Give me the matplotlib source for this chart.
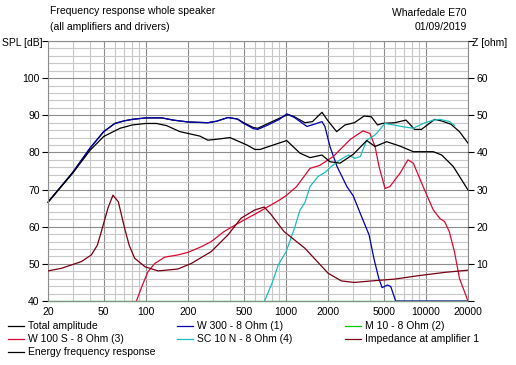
import matplotlib
matplotlib.use("Agg")
import matplotlib.pyplot as plt
from matplotlib.lines import Line2D
from matplotlib.ticker import FixedLocator, NullFormatter

plt.rcParams['font.family'] = ['Liberation Sans', 'DejaVu Sans']
plt.rcParams['font.size'] = 7.5

# --- data (frequency in Hz, level in dB, impedance in ohm) ---
total_f = [20, 30, 40, 50, 60, 70, 80, 100, 130, 157, 200, 277, 320, 386, 450, 500, 586, 630,
           747, 900, 1041, 1152, 1368, 1550, 1700, 1812, 2000, 2305, 2645, 3087, 3620, 4077,
           4520, 4870, 5990, 7220, 8300, 9300, 11570, 12900, 15100, 17380, 20000]
total_db = [66.6, 74.6, 81.2, 85.6, 87.8, 88.5, 88.9, 89.3, 89.3, 88.7, 88.2, 88.0, 88.4, 89.4,
            89.0, 88.0, 86.7, 86.5, 87.8, 89.2, 90.2, 89.6, 88.0, 88.3, 89.8, 90.8, 88.5, 85.6,
            87.4, 88.0, 89.8, 89.6, 87.4, 87.8, 88.0, 88.7, 86.2, 86.2, 88.9, 88.5, 87.6, 85.6, 82.5]

w300_f = [20, 30, 40, 50, 60, 70, 80, 100, 130, 157, 200, 277, 320, 386, 450, 500, 586, 630,
          747, 900, 1014, 1150, 1414, 1600, 1812, 1900, 2065, 2322, 2730, 3030, 3433, 3930,
          4252, 4610, 4870, 5316, 5612, 6084, 8000, 12000, 20000]
w300_db = [66.6, 74.6, 81.2, 85.6, 87.8, 88.5, 88.9, 89.3, 89.3, 88.7, 88.2, 88.0, 88.4, 89.4,
           89.0, 87.8, 86.4, 86.2, 87.4, 88.9, 90.4, 89.4, 87.0, 87.6, 88.3, 87.0, 81.6, 76.2,
           70.8, 68.3, 63.2, 57.8, 51.5, 46.1, 43.6, 44.3, 43.9, 40.0, 40.0, 40.0, 40.0]

m10_f = [20, 200, 2000, 20000]
m10_db = [40, 40, 40, 40]

w100_f = [85.6, 95, 103.6, 115.8, 136.3, 169, 200, 248.5, 293, 362, 455, 630, 903, 1014, 1193,
          1487, 1743, 2181, 2884, 3555, 3989, 4335, 4630, 5110, 5536, 6533, 7450, 8137, 9560,
          11300, 12600, 13600, 14700, 16000, 17380, 20000]
w100_db = [40.0, 44.5, 47.9, 50.1, 51.8, 52.4, 53.1, 54.6, 56.0, 58.7, 60.9, 63.8, 67.2, 68.5,
           70.8, 75.7, 76.5, 78.9, 83.5, 85.8, 85.1, 81.6, 76.2, 70.3, 70.8, 74.4, 78.0, 77.1,
           70.8, 64.5, 62.2, 61.4, 58.7, 53.3, 46.1, 40.0]

sc10_f = [705, 800, 882, 1005, 1152, 1262, 1368, 1487, 1695, 1936, 2106, 2437, 2800, 3110,
          3403, 3782, 4335, 5110, 5855, 6900, 8137, 9560, 11300, 12620, 14760, 16000]
sc10_db = [40.0, 45.0, 49.7, 53.3, 59.6, 64.5, 66.5, 70.8, 73.5, 74.8, 76.2, 78.0, 79.3, 78.4,
           78.9, 83.3, 84.7, 87.8, 87.4, 86.9, 86.5, 87.8, 88.7, 88.9, 88.3, 87.3]

imp_f = [20, 24.9, 34.6, 40.8, 45, 48.1, 53.6, 58.2, 63.6, 70.5, 76, 83.2, 98.9, 122.4, 169,
         211, 293, 386, 479, 599, 700, 787, 970, 1368, 2000, 2493, 3087, 4077, 5990, 8770,
         13600, 20000]
imp_ohm = [8.1, 8.8, 10.6, 12.4, 15.0, 18.7, 25.0, 28.5, 26.7, 19.6, 15.0, 11.5, 9.2, 8.1, 8.6,
           10.1, 13.3, 17.8, 22.3, 24.5, 25.3, 23.2, 18.7, 14.2, 7.5, 5.4, 5.0, 5.4, 5.9, 6.8,
           7.7, 8.3]

energy_f = [20, 30, 40, 50, 65.4, 80, 100, 119, 141, 175, 243, 277, 330, 399, 527, 601, 654,
            813, 1014, 1262, 1487, 1812, 2065, 2437, 3033, 3782, 4335, 5250, 6533, 8137, 11300,
            12980, 15700, 20000]
energy_db = [66.6, 74.4, 80.6, 84.3, 86.5, 87.4, 87.8, 87.8, 87.2, 85.6, 84.4, 83.3, 83.6, 84.0,
             82.0, 80.8, 80.8, 82.0, 83.2, 79.8, 78.6, 79.3, 77.5, 77.1, 79.5, 83.2, 81.6, 82.9,
             81.7, 80.2, 80.2, 79.3, 76.2, 69.9]

x_labels = [20, 50, 100, 200, 500, 1000, 2000, 5000, 10000, 20000]
x_minor = [30, 40, 60, 70, 80, 90, 300, 400, 600, 700, 800, 900, 3000, 4000, 6000, 7000,
           8000, 9000]
spl_labels = [40, 50, 60, 70, 80, 90, 100]
ohm_labels = [10, 20, 30, 40, 50, 60]

series = [
    ("Total amplitude", total_f, total_db, "black"),
    ("W 300 - 8 Ohm (1)", w300_f, w300_db, "#0000b4"),
    ("M 10 - 8 Ohm (2)", m10_f, m10_db, "#00c800"),
    ("W 100 S - 8 Ohm (3)", w100_f, w100_db, "#dc0a32"),
    ("SC 10 N - 8 Ohm (4)", sc10_f, sc10_db, "#1ebebe"),
]

fig = plt.figure(figsize=(5.16, 3.65), dpi=100)
ax = fig.add_axes([48 / 516, 64 / 365, 420 / 516, 260 / 365])
ax.set_xscale("log")
ax.set_xlim(20, 20000)
ax.set_ylim(40, 110)

# grid
ax.xaxis.set_major_locator(FixedLocator(x_labels))
ax.xaxis.set_minor_locator(FixedLocator(x_minor))
ax.set_xticklabels([str(v) for v in x_labels])
ax.xaxis.set_minor_formatter(NullFormatter())
ax.yaxis.set_major_locator(FixedLocator(list(range(40, 111, 10))))
ax.yaxis.set_minor_locator(FixedLocator([v for v in range(40, 111, 2) if v % 10]))
ax.set_yticklabels([str(v) if v in spl_labels else "" for v in range(40, 111, 10)])
ax.grid(True, which="major", color="#8c8c8c", linewidth=0.8)
ax.grid(True, which="minor", color="#c8c8c8", linewidth=0.8)
ax.set_axisbelow(True)
ax.tick_params(axis="x", which="both", length=0, pad=4)
ax.tick_params(axis="y", which="minor", length=0)
ax.tick_params(axis="y", which="major", length=4, width=0.8, pad=2)
for s in ax.spines.values():
    s.set_color("#8c8c8c")
    s.set_linewidth(0.8)

ax2 = ax.twinx()
ax2.set_ylim(0, 70)
ax2.set_yticks(list(range(0, 71, 10)))
ax2.set_yticklabels([str(v) if v in ohm_labels else "" for v in range(0, 71, 10)])
ax2.tick_params(axis="y", length=4, width=0.8, pad=2)
for s in ax2.spines.values():
    s.set_visible(False)

for name, f, db, c in series:
    ax.plot(f, db, color=c, linewidth=0.9, clip_on=False)
ax2.plot(imp_f, imp_ohm, color="#780014", linewidth=0.9)
ax.plot(energy_f, energy_db, color="black", linewidth=0.9)

# header texts
fig.text(50 / 516, 1 - 11 / 365, "Frequency response whole speaker", va="center", ha="left")
fig.text(50 / 516, 1 - 27 / 365, "(all amplifiers and drivers)", va="center", ha="left")
fig.text(467 / 516, 1 - 13 / 365, "Wharfedale E70", va="center", ha="right")
fig.text(467 / 516, 1 - 27 / 365, "01/09/2019", va="center", ha="right")
fig.text(2 / 516, 1 - 43 / 365, "SPL [dB]", va="center", ha="left")
fig.text(472 / 516, 1 - 43 / 365, "Z [ohm]", va="center", ha="left")

# legend, three columns
legend = [
    ("Total amplitude", "black", 8, 326),
    ("W 300 - 8 Ohm (1)", "#0000b4", 177, 326),
    ("M 10 - 8 Ohm (2)", "#00c800", 345, 326),
    ("W 100 S - 8 Ohm (3)", "#dc0a32", 8, 339),
    ("SC 10 N - 8 Ohm (4)", "#1ebebe", 177, 339),
    ("Impedance at amplifier 1", "#780014", 345, 339),
    ("Energy frequency response", "black", 8, 352),
]
for label, c, x, y in legend:
    yy = 1 - y / 365
    fig.add_artist(Line2D([x / 516, (x + 16) / 516], [yy, yy], color=c, linewidth=0.9,
                          transform=fig.transFigure))
    fig.text((x + 20) / 516, yy, label, va="center", ha="left")

fig.savefig("out.png", dpi=100)
